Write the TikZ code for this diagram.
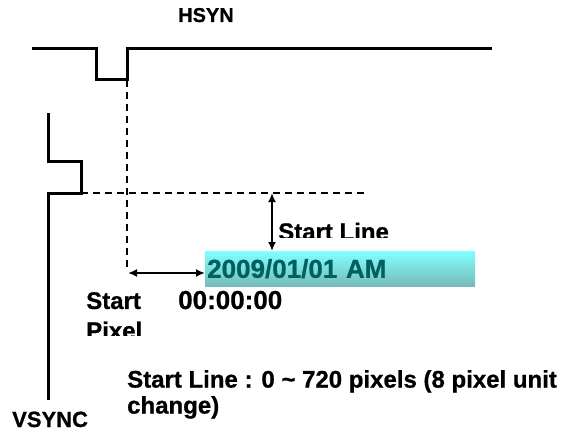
\documentclass[tikz,border=0pt]{standalone}
\usepackage{fontspec}
\setmainfont{Liberation Sans}[BoldFeatures={FakeBold=0.8}]
\usetikzlibrary{arrows.meta,positioning}
\definecolor{stampTop}{RGB}{128,255,255}
\definecolor{stampBot}{RGB}{120,186,186}
\definecolor{stampText}{RGB}{0,96,96}

\begin{document}
\begin{tikzpicture}[
    x=1pt, y=-1pt,
    wave/.style={line width=3pt},
    guide/.style={line width=2.8pt, dash pattern=on 7pt off 5pt},
    span/.style={line width=2.4pt, {Latex[length=9pt,width=8pt]}-{Latex[length=9pt,width=8pt]}},
    txt/.style={inner sep=0pt, anchor=base west, font=\bfseries\fontsize{24}{26}\selectfont},
    stamp/.style={top color=stampTop, bottom color=stampBot, text=stampText,
        minimum height=35pt, text width=266pt, inner xsep=2pt, inner ysep=0pt,
        align=left, font=\bfseries\fontsize{26}{28}\selectfont}
]
\useasboundingbox (0,0) rectangle (565,436);

% sync waveforms
\draw[wave] (32,49) -- (96,49) -- (96,80) -- (127,80) -- (127,49) -- (492,49);
\draw[wave] (48,113) -- (48,161) -- (81,161) -- (81,193) -- (48,193) -- (48,400);

\coordinate (hedge) at (127,80);
\coordinate (vedge) at (81,193);
\coordinate (pxl) at (128,273);
\coordinate (lnt) at (272,193);

\draw[guide] (hedge) -- ++(0,188);
\draw[guide] (vedge) -- (366,193);

\node[stamp, anchor=north west] (stamp) at (205,251) {2009/01/01 AM};

\draw[span] (pxl) -- (stamp.west |- pxl);
\draw[span] (lnt) -- (lnt |- stamp.north);

\node[txt, font=\bfseries\fontsize{20}{22}\selectfont] (hsyn) at (178,22) {HSYN};
\node[txt, font=\bfseries\fontsize{22}{24}\selectfont] (vsync) at (12,427) {VSYNC};
\node[txt, font=\bfseries\fontsize{26}{28}\selectfont] (clock) at (178,309) {00:00:00};

% labels cut off at the bottom
\begin{scope}
  \clip (270,215) rectangle (400,237);
  \node[txt] (startline) at (278,240) {Start Line};
\end{scope}
\begin{scope}
  \clip (80,285) rectangle (150,335);
  \node[txt, anchor=north west, align=left, font=\bfseries\fontsize{24}{30}\selectfont]
    (startpixel) at (86,292) {Start\\Pixel};
\end{scope}

\node[txt, anchor=north west, align=left] (note) at (127,370)
  {Start Line : 0 \textasciitilde{} 720 pixels (8 pixel unit\\change)};

\end{tikzpicture}
\end{document}
